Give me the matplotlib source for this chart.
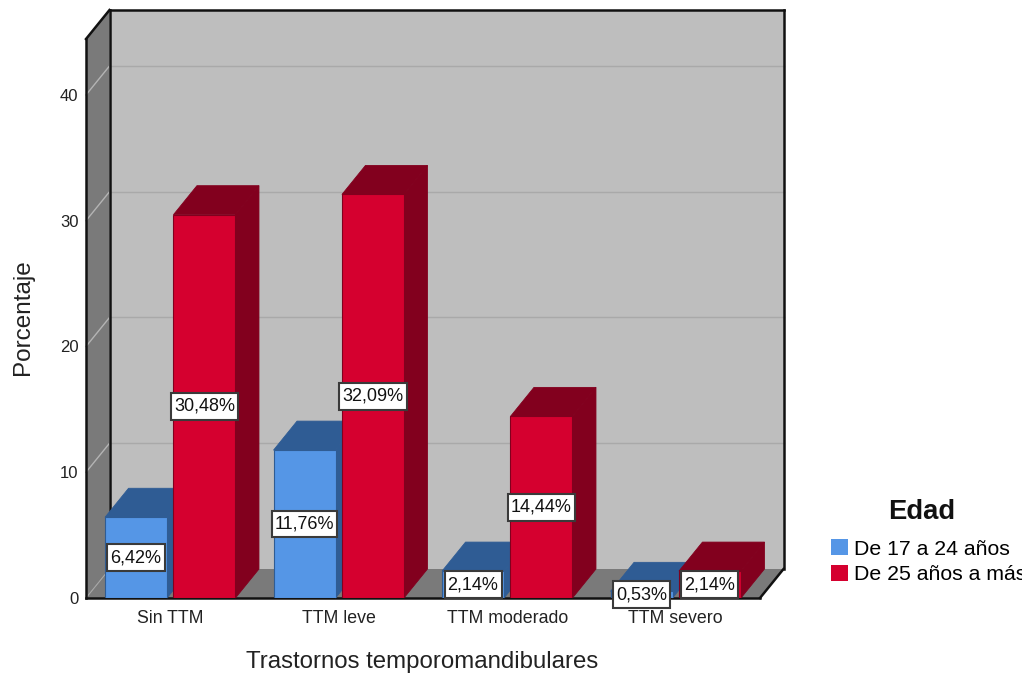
import matplotlib
matplotlib.use("Agg")
from matplotlib import pyplot as plt
from matplotlib.patches import Patch, Polygon
from matplotlib.path import Path
from matplotlib.transforms import Bbox

plt.rcParams["font.family"] = ["Liberation Sans", "DejaVu Sans"]

categories = ["Sin TTM", "TTM leve", "TTM moderado", "TTM severo"]
age_groups = ["De 17 a 24 años", "De 25 años a más"]
young_pct = [6.42, 11.76, 2.14, 0.53]
older_pct = [30.48, 32.09, 14.44, 2.14]
y_ticks = [0, 10, 20, 30, 40]

BLUE, BLUE_DARK = "#5596E6", "#2F5C94"
RED, RED_DARK = "#D5002F", "#82001E"
WALL, SIDE = "#BEBEBE", "#7A7A7A"

W, H = 1027, 677
X_MIN, X_MAX = -0.5, 3.5
Y_MIN, Y_MAX = 0, 44.45
# shift of the back plane relative to the front one, in data units
DX, DY = 0.1395, 2.306
BAR_W, BAR_OFF = 0.368, 0.203

fig = plt.figure(figsize=(W / 100, H / 100), dpi=100)
ax = fig.add_axes([86 / W, 1 - 598 / H, 674 / W, 559 / H])
ax.set_xlim(X_MIN, X_MAX)
ax.set_ylim(Y_MIN, Y_MAX)
for spine in ax.spines.values():
    spine.set_visible(False)
ax.patch.set_visible(False)


def face(pts, color, z, edge="none", lw=0.0):
    ax.add_patch(Polygon(pts, closed=True, facecolor=color, edgecolor=edge,
                         linewidth=lw, zorder=z, clip_on=False))


def line(xs, ys, color="#111111", lw=1.8, z=3):
    ax.plot(xs, ys, color=color, lw=lw, zorder=z, clip_on=False,
            solid_capstyle="projecting")


def label_boxstyle(x0, y0, width, height, size):
    # tighter at the sides than above and below
    px, py = 0.17 * size, 0.27 * size
    x1, y1 = x0 + width + px, y0 + height + py
    x0, y0 = x0 - px, y0 - py
    return Path([(x0, y0), (x1, y0), (x1, y1), (x0, y1), (x0, y0)], closed=True)


# box walls
face([(X_MIN + DX, DY), (X_MAX + DX, DY), (X_MAX + DX, Y_MAX + DY), (X_MIN + DX, Y_MAX + DY)], WALL, 1)
face([(X_MIN, 0), (X_MIN + DX, DY), (X_MIN + DX, Y_MAX + DY), (X_MIN, Y_MAX)], SIDE, 1)
face([(X_MIN, 0), (X_MAX, 0), (X_MAX + DX, DY), (X_MIN + DX, DY)], SIDE, 1)

for t in y_ticks[1:]:
    line([X_MIN, X_MIN + DX], [t, t + DY], color="#B4B4B4", lw=1.0, z=2)
    line([X_MIN + DX, X_MAX + DX], [t + DY, t + DY], color="#A9A9A9", lw=1.0, z=2)
line([X_MIN, X_MIN + DX], [0, DY], color="#A5A5A5", lw=0.8, z=2)

# box frame
line([X_MIN, X_MIN], [0, Y_MAX])
line([X_MIN, X_MIN + DX], [Y_MAX, Y_MAX + DY])
line([X_MIN + DX, X_MIN + DX], [DY, Y_MAX + DY])
line([X_MIN + DX, X_MAX + DX], [Y_MAX + DY, Y_MAX + DY])
line([X_MAX + DX, X_MAX + DX], [DY, Y_MAX + DY])
line([X_MIN, X_MAX], [0, 0])
line([X_MAX, X_MAX + DX], [0, DY])


def bar3d(x, value, color, dark, z):
    x0, x1 = x - BAR_W / 2, x + BAR_W / 2
    edge = dark
    face([(x1, 0), (x1 + DX, DY), (x1 + DX, value + DY), (x1, value)], dark, z, edge, 0.6)
    face([(x0, value), (x1, value), (x1 + DX, value + DY), (x0 + DX, value + DY)], dark, z, edge, 0.6)
    ax.bar(x, value, width=BAR_W, color=color, edgecolor=dark, linewidth=0.8, zorder=z)


for i, (young, older) in enumerate(zip(young_pct, older_pct)):
    bar3d(i - BAR_OFF, young, BLUE, BLUE_DARK, 4)
    bar3d(i + BAR_OFF, older, RED, RED_DARK, 5)

label_box = dict(boxstyle=label_boxstyle, facecolor="white", edgecolor="#3A3A3A", linewidth=1.5)
for i, (young, older) in enumerate(zip(young_pct, older_pct)):
    for x, v in ((i - BAR_OFF, young), (i + BAR_OFF, older)):
        ax.text(x, v / 2, f"{v:.2f}%".replace(".", ","), ha="center", va="center",
                fontsize=13, color="#111111", bbox=label_box, zorder=8, clip_on=False)

ax.set_xticks(range(len(categories)), categories, fontsize=12.8, color="#222222")
ax.set_yticks(y_ticks, [str(t) for t in y_ticks], fontsize=12, color="#222222")
ax.tick_params(axis="both", length=0)
ax.tick_params(axis="x", pad=8.5)
ax.tick_params(axis="y", pad=5.5)
ax.set_xlabel("Trastornos temporomandibulares", fontsize=17.3, color="#222222")
ax.xaxis.set_label_coords((422 - 86) / 674, (598 - 662) / 559, transform=ax.transAxes)
ax.xaxis.label.set_va("center")
ax.set_ylabel("Porcentaje", fontsize=17.5, color="#222222")
ax.yaxis.set_label_coords((23 - 86) / 674, (598 - 317) / 559, transform=ax.transAxes)
ax.yaxis.label.set_va("center")

handles = [Patch(facecolor=BLUE, edgecolor="none"), Patch(facecolor=RED, edgecolor="none")]
legend = fig.legend(handles, age_groups, loc="upper left",
                    bbox_to_anchor=(831 / W, 1 - 539 / H), bbox_transform=fig.transFigure,
                    frameon=False, fontsize=15.3, handlelength=0.8, handleheight=0.8,
                    handletextpad=0.3, labelspacing=0.3, borderaxespad=0, borderpad=0)
fig.text(922 / W, 1 - 512 / H, "Edad", ha="center", va="center", fontsize=19.7,
         fontweight="bold", color="#111111")

# the longer entry runs past the drawing area and is cut off
for text in legend.get_texts():
    text.set_clip_box(Bbox([[0, 0], [1022, H]]))
    text.set_clip_on(True)

fig.savefig("out.png", dpi=100)
